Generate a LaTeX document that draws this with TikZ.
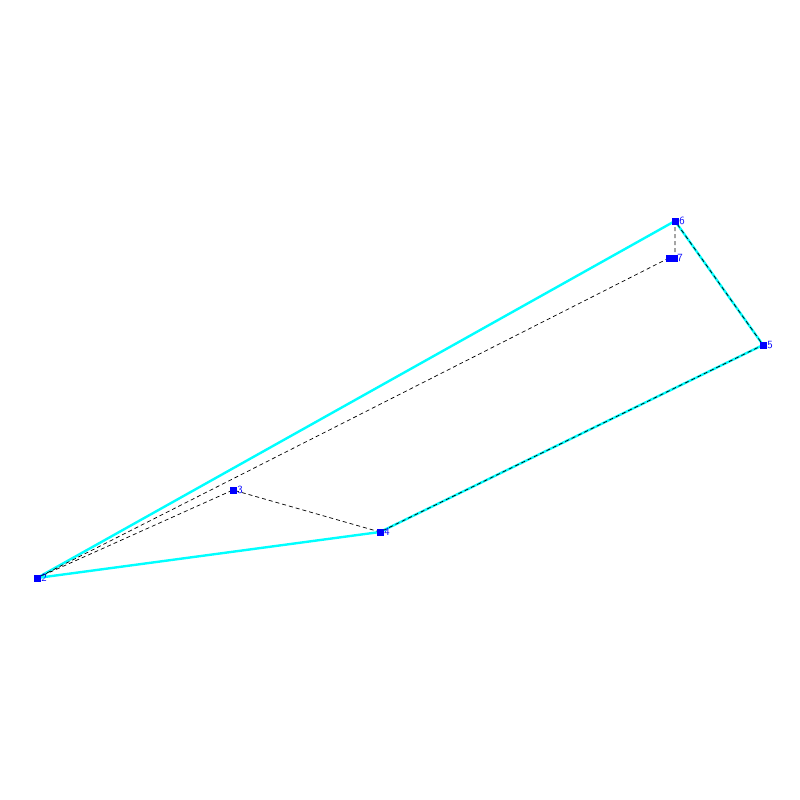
\documentclass[tikz,border=0pt]{standalone}
\definecolor{cyn}{RGB}{0,255,255}
\definecolor{blu}{RGB}{0,0,255}
\begin{document}
\begin{tikzpicture}[x=1pt,y=-1pt,
  pt/.style={fill=blu,inner sep=0pt,minimum size=7pt},
  lbl/.style={text=blu,font=\sffamily\fontsize{11}{11}\selectfont,anchor=west,inner sep=0pt,xshift=0.5pt},
  edge/.style={cyn,line width=2.4pt},
  dsh/.style={black,line width=0.7pt,dash pattern=on 4pt off 3pt}]
\useasboundingbox (0,0) rectangle (800,800);
\fill[white] (0,0) rectangle (800,800);
\coordinate (c2) at (37,578);
\coordinate (c3) at (233,490);
\coordinate (c4) at (380,532);
\coordinate (c5) at (763,345);
\coordinate (c6) at (675,221);
\coordinate (c7) at (669,258);
\coordinate (c7b) at (675,258);
\draw[edge] (c2) -- (c6) -- (c5) -- (c4) -- (c2);
\draw[dsh] (c2) -- (c3) -- (c4) -- (c5) -- (c6) -- (c7b);
\draw[dsh] (c7) -- (c2);
\node[pt] (n2) at (c2) {};
\node[pt] (n3) at (c3) {};
\node[pt] (n4) at (c4) {};
\node[pt] (n5) at (c5) {};
\node[pt] (n6) at (c6) {};
\node[pt,minimum width=12pt] (n7) at (672,258) {};
\node[lbl] at (n2.east) {2};
\node[lbl] at (n3.east) {3};
\node[lbl] at (n4.east) {4};
\node[lbl] at (n5.east) {5};
\node[lbl] at (n6.east) {6};
\node[lbl,xshift=-1.5pt] at (n7.east) {7};
\end{tikzpicture}
\end{document}
